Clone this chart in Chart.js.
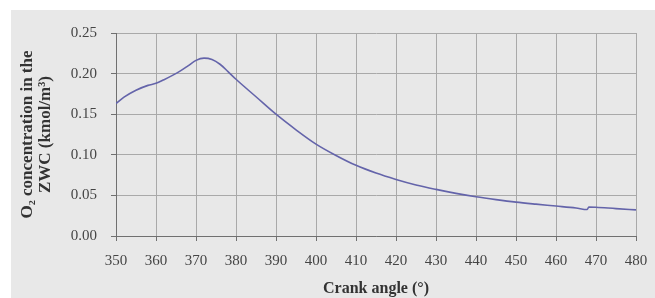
<!DOCTYPE html>
<html>
<head>
<meta charset="utf-8">
<script src="https://cdn.jsdelivr.net/npm/chart.js@4/dist/chart.umd.min.js"></script>
<style>
  html, body { margin: 0; padding: 0; background: #fff; }
  #wrap { position: absolute; left: 11px; top: 10px; width: 644px; height: 288px; background: #e8e8e8; }
</style>
</head>
<body>
<div id="wrap"><canvas id="myChart"></canvas></div>
<script>
const crankAngle = [350, 352, 355, 358, 360, 362, 364, 366, 368, 370, 372, 374, 376, 378, 380,
  385, 390, 395, 400, 405, 410, 415, 420, 425, 430, 435, 440, 445, 450, 455, 460, 465,
  467.8, 468.2, 470, 475, 480]
const o2Conc = [0.163, 0.171, 0.1795, 0.1855, 0.188, 0.1925, 0.1975, 0.203, 0.2095, 0.2163, 0.219, 0.2173, 0.2115, 0.2025, 0.193,
  0.1715, 0.150, 0.1308, 0.1132, 0.0992, 0.0870, 0.0775, 0.0697, 0.0629, 0.0574, 0.0525, 0.0483, 0.0448, 0.0417, 0.0392, 0.0369, 0.0345,
  0.0326, 0.0357, 0.0354, 0.0337, 0.0322]
const yTitle = ['O\u2082 concentration in the', 'ZWC (kmol/m\u00b3)']
const xTitle = 'Crank angle (\u00b0)'

const serif = "'Liberation Serif', 'Times New Roman', serif"
const gridColor = '#a9a9a9'
const axisColor = '#707070'

const points = crankAngle.map((a, i) => ({ x: a, y: o2Conc[i] }))

const ctx = document.getElementById('myChart').getContext('2d')
new Chart(ctx, {
  type: 'line',
  data: {
    datasets: [
      {
        data: points,
        borderColor: '#6464aa',
        borderWidth: 1.6,
        pointRadius: 0,
        fill: false,
        cubicInterpolationMode: 'monotone'
      }
    ]
  },
  options: {
    responsive: true,
    maintainAspectRatio: false,
    animation: false,
    layout: { padding: { top: 14, right: 19, left: 0, bottom: 0 } },
    plugins: { legend: { display: false }, tooltip: { enabled: false } },
    scales: {
      x: {
        type: 'linear',
        min: 350,
        max: 480,
        afterFit: scale => {
          scale.height = 62
          // keep the plot right edge where the layout padding puts it
          scale.paddingLeft = 0
          scale.paddingRight = 0
        },
        grid: { color: gridColor, tickColor: axisColor, tickLength: 5 },
        border: { color: axisColor, width: 1 },
        ticks: {
          stepSize: 10,
          padding: 11,
          maxRotation: 0,
          color: '#454545',
          font: { family: serif, size: 15 }
        },
        title: {
          display: true,
          text: xTitle,
          color: '#333',
          padding: { top: 0, bottom: 0 },
          font: { family: serif, size: 16, weight: 'bold' }
        }
      },
      y: {
        min: 0,
        max: 0.25,
        afterFit: scale => { scale.width = 105 },
        grid: { color: gridColor, tickColor: axisColor, tickLength: 5 },
        border: { color: axisColor, width: 1 },
        ticks: {
          stepSize: 0.05,
          padding: 14,
          color: '#454545',
          font: { family: serif, size: 15 },
          callback: v => v.toFixed(2)
        },
        title: {
          display: true,
          text: yTitle,
          color: '#333',
          padding: { top: 7, bottom: 0 },
          font: { family: serif, size: 17, weight: 'bold', lineHeight: 1.1 }
        }
      }
    }
  }
})
</script>
</body>
</html>
